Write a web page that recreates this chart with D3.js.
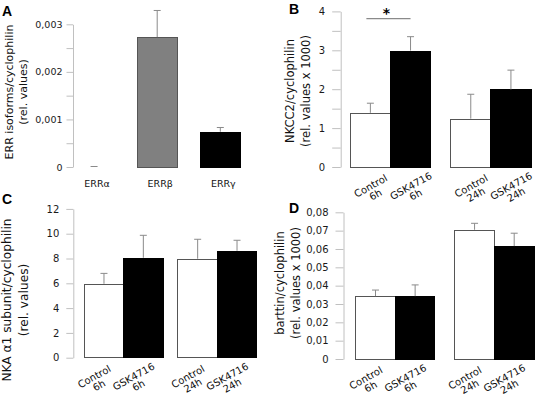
<!DOCTYPE html>
<html><head><meta charset="utf-8">
<script src="https://cdn.jsdelivr.net/npm/d3@7"></script>
<style>body{margin:0;background:#fff}svg{display:block}</style>
</head><body>
<svg id="chart" width="537" height="402"></svg>
<script>
// ---------- data ----------
const errCategories = ["ERRα", "ERRβ", "ERRγ"];
const errValues = [0, 0.00272, 0.00073];
const errSD = [0, 0.00056, 0.00009];

const timepoints = ["6h", "24h"];
const treatments = ["Control", "GSK4716"];

const nkcc2Values = [1.38, 2.98, 1.23, 1.98];
const nkcc2SD = [0.26, 0.37, 0.64, 0.51];

const nkaValues = [5.92, 8.02, 7.94, 8.58];
const nkaSD = [0.88, 1.85, 1.61, 0.89];

const barttinValues = [0.034, 0.034, 0.0702, 0.0613];
const barttinSD = [0.0036, 0.0064, 0.0038, 0.0073];

const ticksA = [0, 0.0005, 0.001, 0.0015, 0.002, 0.0025, 0.003];
const labelsA = [0, 0.001, 0.002, 0.003];
const ticksB = [0, 0.5, 1, 1.5, 2, 2.5, 3, 3.5, 4];
const labelsB = [0, 1, 2, 3, 4];
const ticksC = [0, 2, 4, 6, 8, 10, 12];
const ticksD = [0, 0.01, 0.02, 0.03, 0.04, 0.05, 0.06, 0.07, 0.08];

// ---------- setup ----------
const FONT = "Verdana, 'DejaVu Sans', sans-serif";
const svg = d3.select("#chart").style("font-family", FONT);
const locale = d3.formatLocale({decimal: ",", thousands: ".", grouping: [3], currency: ["", ""]});
const fmt3 = locale.format(".3f"), fmt2 = locale.format(".2f"), fmt0 = locale.format("d");

function drawAxis(g, y, axisX, ticks, labels, fmt, tickLen, pad, fs) {
  const ax = d3.axisLeft(y).tickValues(ticks).tickSize(tickLen).tickSizeOuter(0).tickPadding(pad)
    .tickFormat(d => labels.some(l => Math.abs(l - d) < 1e-9) ? (d === 0 ? "0" : fmt(d)) : "");
  const a = g.append("g").attr("transform", `translate(${axisX},0)`).call(ax);
  a.select(".domain").attr("stroke", "#c0c0c0");
  a.selectAll(".tick line").attr("stroke", "#c0c0c0");
  a.selectAll(".tick text").attr("fill", "#1a1a1a").style("font-size", fs + "px").style("font-family", FONT);
}

function yTitle(x1, x2, cy, l1, l2, fs) {
  svg.append("text").attr("transform", `translate(${x1},${cy}) rotate(-90)`).attr("text-anchor", "middle")
    .style("font-size", fs + "px").attr("fill", "#111").text(l1);
  svg.append("text").attr("transform", `translate(${x2},${cy}) rotate(-90)`).attr("text-anchor", "middle")
    .style("font-size", fs + "px").attr("fill", "#111").text(l2);
}

function letter(x, y, t) {
  svg.append("text").attr("x", x).attr("y", y).text(t)
    .style("font-family", "Arial, 'Liberation Sans', sans-serif").style("font-weight", "bold").style("font-size", "14px");
}

function errBar(g, cx, yv, ye) {
  g.append("line").attr("x1", cx).attr("x2", cx).attr("y1", yv).attr("y2", ye).attr("stroke", "#8a8a8a");
  g.append("line").attr("x1", cx - 3.5).attr("x2", cx + 3.5).attr("y1", ye).attr("y2", ye).attr("stroke", "#8a8a8a");
}

// ---------- panel A ----------
{
  const g = svg.append("g");
  const y = d3.scaleLinear().domain([0, 0.003]).range([167, 24.3]);
  const x = d3.scaleBand().domain(errCategories).range([74.1, 240.3]).paddingInner(0.367).paddingOuter(0);
  drawAxis(g, y, 73, ticksA, labelsA, fmt3, 6.5, 4, 9.5);
  const fills = ["#808080", "#808080", "#000"];
  errCategories.forEach((c, i) => {
    if (errValues[i] > 0) {
      g.append("rect").attr("x", x(c)).attr("width", x.bandwidth())
        .attr("y", y(errValues[i])).attr("height", y(0) - y(errValues[i]))
        .attr("fill", fills[i]).attr("stroke", i === 2 ? "#000" : "#555").attr("shape-rendering", "crispEdges");
    }
    errBar(g, x(c) + x.bandwidth() / 2, y(errValues[i]) - 0.5, y(errValues[i] + errSD[i]) - 0.5);
    g.append("text").attr("x", x(c) + x.bandwidth() / 2 + 3).attr("y", 187).attr("text-anchor", "middle")
      .style("font-size", "9.5px").attr("fill", "#111").text(c);
  });
  yTitle(12.5, 26.5, 92, "ERR isoforms/cyclophilin", "(rel. values)", 11);
  letter(2, 16, "A");
}

// ---------- grouped panels ----------
function groupedPanel(cfg) {
  const g = svg.append("g");
  const y = d3.scaleLinear().domain(cfg.domain).range(cfg.yRange);
  const x0 = d3.scaleBand().domain(timepoints).range(cfg.xRange).paddingInner(cfg.padInner).paddingOuter(0);
  const x1 = d3.scaleBand().domain(treatments).range([0, x0.bandwidth()]).padding(0);
  drawAxis(g, y, cfg.axisX, cfg.ticks, cfg.labels, cfg.fmt, cfg.tickLen, cfg.pad, 10);
  const rows = cfg.values.map((v, i) => ({t: timepoints[Math.floor(i / 2)], c: treatments[i % 2], v, e: cfg.sd[i]}));
  rows.forEach(r => {
    const bx = x0(r.t) + x1(r.c);
    const ctrl = r.c === "Control";
    g.append("rect").attr("x", bx).attr("width", x1.bandwidth())
      .attr("y", y(r.v)).attr("height", y(0) - y(r.v))
      .attr("fill", ctrl ? "#fff" : "#000").attr("stroke", ctrl ? "#555" : "#000")
      .attr("shape-rendering", "crispEdges");
  });
  rows.forEach(r => {
    const cx = x0(r.t) + x1(r.c) + x1.bandwidth() / 2;
    errBar(g, cx, y(r.v) - 0.5, y(r.v + r.e));
    const lab = g.append("text").attr("transform", `translate(${cx + cfg.labOff},${cfg.yRange[0] + 22}) rotate(-29)`)
      .attr("text-anchor", "middle").style("font-size", "10px").attr("fill", "#111");
    lab.append("tspan").attr("x", 0).attr("dy", 0).text(r.c);
    lab.append("tspan").attr("x", 0).attr("dy", "1.0em").text(r.t);
  });
  return {g, y, x0, x1};
}

// ---------- panel B ----------
{
  const p = groupedPanel({domain: [0, 4], yRange: [167, 11.4], xRange: [350.3, 531], padInner: 0.2,
    axisX: 340.7, ticks: ticksB, labels: labelsB, fmt: fmt0, tickLen: 8.5, pad: 7,
    values: nkcc2Values, sd: nkcc2SD, labOff: 2});
  const c1 = p.x0("6h") + p.x1("Control") + p.x1.bandwidth() / 2;
  const c2 = p.x0("6h") + p.x1("GSK4716") + p.x1.bandwidth() / 2;
  svg.append("line").attr("x1", c1 - 4).attr("x2", c2).attr("y1", 18.7).attr("y2", 18.7)
    .attr("stroke", "#8a8a8a").attr("stroke-width", 1.3);
  svg.append("text").attr("x", (c1 + c2) / 2 - 4).attr("y", 18).attr("text-anchor", "middle")
    .style("font-size", "14px").style("font-weight", "bold").text("*");
  yTitle(293.7, 309.5, 91, "NKCC2/cyclophilin", "(rel. values x 1000)", 11.5);
  letter(289, 13.5, "B");
}

// ---------- panel C ----------
{
  groupedPanel({domain: [0, 12], yRange: [357.7, 208.9], xRange: [84.3, 256.7], padInner: 0.16,
    axisX: 73.3, ticks: ticksC, labels: ticksC, fmt: fmt0, tickLen: 7, pad: 7,
    values: nkaValues, sd: nkaSD, labOff: -8});
  yTitle(11, 27.5, 300, "NKA α1 subunit/cyclophilin", "(rel. values)", 12.2);
  letter(2, 204, "C");
}

// ---------- panel D ----------
{
  groupedPanel({domain: [0, 0.08], yRange: [359, 212.3], xRange: [355.7, 534], padInner: 0.2,
    axisX: 343.5, ticks: ticksD, labels: ticksD, fmt: fmt2, tickLen: 8, pad: 7,
    values: barttinValues, sd: barttinSD, labOff: -8});
  yTitle(283.7, 299.5, 283, "barttin/cyclophilin", "(rel. values x 1000)", 11.5);
  letter(289, 212.5, "D");
}
</script>
</body></html>
